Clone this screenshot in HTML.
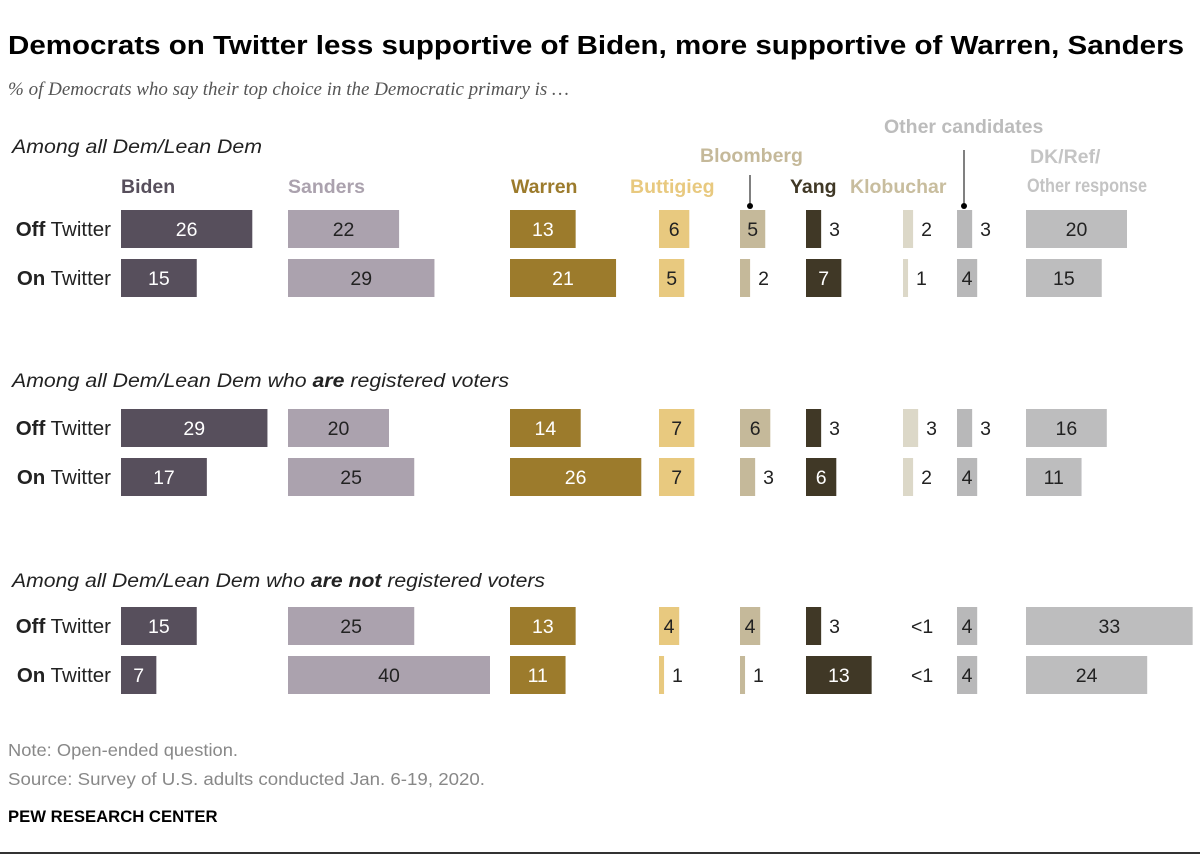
<!DOCTYPE html>
<html><head><meta charset="utf-8"><style>
body{margin:0;background:#fff;}
svg{display:block;font-family:"Liberation Sans",sans-serif;}
</style></head><body>
<svg id="chart" width="1200" height="859">
<text x="8" y="54" font-size="25.5" font-weight="bold" fill="#000" textLength="1176" lengthAdjust="spacingAndGlyphs">Democrats on Twitter less supportive of Biden, more supportive of Warren, Sanders</text>
<text x="8" y="95" font-size="19" font-style="italic" font-family="Liberation Serif" fill="#555">% of Democrats who say their top choice in the Democratic primary is …</text>
<g id="heads"></g>
<g id="bars"></g>
<text x="8" y="756" font-size="17.5" fill="#888" textLength="230" lengthAdjust="spacingAndGlyphs">Note: Open-ended question.</text>
<text x="8" y="785" font-size="17.5" fill="#888" textLength="477" lengthAdjust="spacingAndGlyphs">Source: Survey of U.S. adults conducted Jan. 6-19, 2020.</text>
<text x="8" y="822" font-size="16.7" font-weight="bold" fill="#000">PEW RESEARCH CENTER</text>
<line x1="0" y1="853" x2="1200" y2="853" stroke="#333" stroke-width="2"/>
</svg>
<script>
const candidates=["Biden","Sanders","Warren","Buttigieg","Bloomberg","Yang","Klobuchar","Other candidates","DK/Ref/Other response"];
const groups=["Among all Dem/Lean Dem","Among all Dem/Lean Dem who are registered voters","Among all Dem/Lean Dem who are not registered voters"];
const offTwitter=[[26,22,13,6,5,3,2,3,20],[29,20,14,7,6,3,3,3,16],[15,25,13,4,4,3,0,4,33]];
const onTwitter=[[15,29,21,5,2,7,1,4,15],[17,25,26,7,3,6,2,4,11],[7,40,11,1,1,13,0,4,24]];
const printed={"2-0-6":"<1","2-1-6":"<1"};
const colX=[121,288,510,659,740,806,903,957,1026];
const colors=["#574f5c","#aba2ae","#9c7b2c","#e8c97f","#c5b99a","#403826","#dcd8c8","#b8b8b9","#bdbdbe"];
const textIn=["#fff","#222","#fff","#222","#222","#fff","#222","#222","#222"];
const headColors=["#574f5c","#aba2ae","#9c7b2c","#e8c97f","#c5b99a","#403826","#c8bd9e","#bcbcbc"];
const groupY=[210,409,607];
const scale=5.05, bh=38, gap=49;
const NS="http://www.w3.org/2000/svg";
const bars=document.getElementById('bars'), heads=document.getElementById('heads');
function mk(tag,attrs,parent,txt){const e=document.createElementNS(NS,tag);for(const k in attrs)e.setAttribute(k,attrs[k]);if(txt!==undefined)e.textContent=txt;parent.appendChild(e);return e;}
const hx=[121,288,511,630,700,790,850,884];
const hy=[193,193,193,193,162,193,193,133];
for(let c=0;c<8;c++){
  const t=mk('text',{x:hx[c],y:hy[c],'font-size':19.5,'font-weight':'bold',fill:headColors[c]},heads,candidates[c]);
  
  
}
const dk1=mk('text',{x:1030,y:163,'font-size':19.5,'font-weight':'bold',fill:'#c4c4c4'},heads,'DK/Ref/');


const dk2=mk('text',{x:1027,y:192,'font-size':19.5,'font-weight':'bold',fill:'#c4c4c4',textLength:120,lengthAdjust:'spacingAndGlyphs'},heads,'Other response');


const l1=mk('line',{x1:750,y1:175,x2:750,y2:206,stroke:'#000','stroke-width':1},heads);


mk('circle',{cx:750,cy:206,r:3,fill:'#000'},heads);
const l2=mk('line',{x1:964,y1:150,x2:964,y2:206,stroke:'#000','stroke-width':1},heads);


mk('circle',{cx:964,cy:206,r:3,fill:'#000'},heads);
const secY=[153,387,587];
const secLen=[250,497,533];
const secHtml=['Among all Dem/Lean Dem','Among all Dem/Lean Dem who <tspan font-weight="bold">are</tspan> registered voters','Among all Dem/Lean Dem who <tspan font-weight="bold">are not</tspan> registered voters'];
groups.forEach((g,gi)=>{
  const t=mk('text',{x:12,y:secY[gi],'font-size':19.5,'font-style':'italic',fill:'#222',textLength:secLen[gi],lengthAdjust:'spacingAndGlyphs'},bars);
  t.innerHTML=secHtml[gi];
  
  
  [offTwitter[gi],onTwitter[gi]].forEach((vals,ri)=>{
    const y=groupY[gi]+ri*gap;
    const rl=mk('text',{x:111,y:y+26,'font-size':20.5,'text-anchor':'end',fill:'#222'},bars);
    rl.innerHTML='<tspan font-weight="bold">'+(ri?'On':'Off')+'</tspan> Twitter';
    
    
    vals.forEach((v,c)=>{
      const w=v*scale;
      const r=mk('rect',{x:colX[c],y:y,width:Math.max(w,0),height:bh,fill:colors[c]},bars);
      
      
      const lab=printed[gi+'-'+ri+'-'+c]||String(v);
      const inside=v>=4;
      const t=mk('text',{x:inside?colX[c]+w/2:colX[c]+w+8,y:y+26,'font-size':19.5,'text-anchor':inside?'middle':'start',fill:inside?textIn[c]:'#222'},bars,lab);
      
      
    });
  });
});
</script>
</body></html>
